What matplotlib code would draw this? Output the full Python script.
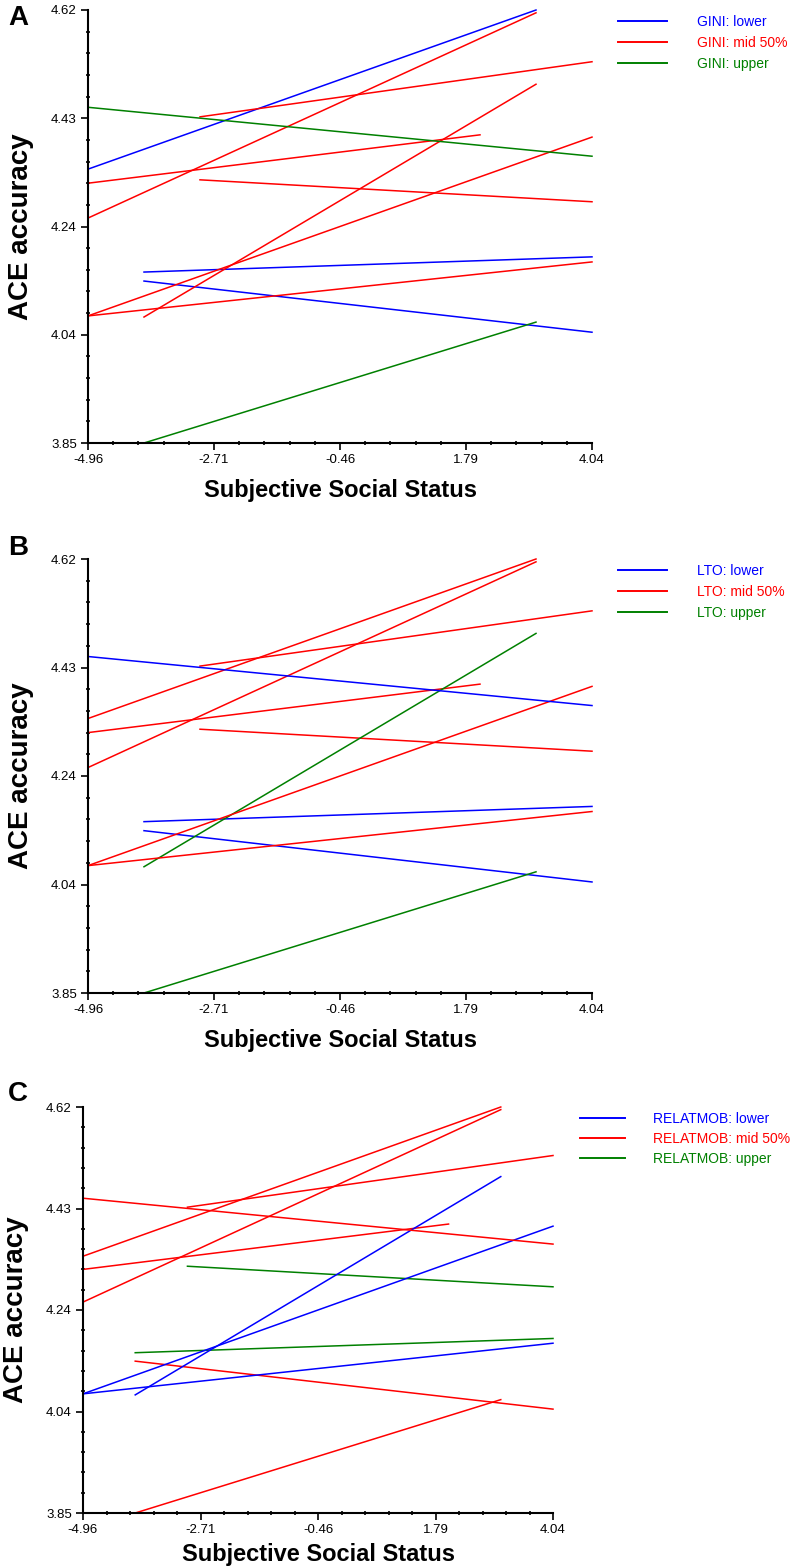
import numpy as np
import matplotlib.pyplot as plt
from matplotlib.lines import Line2D
from matplotlib.ticker import AutoMinorLocator

plt.rcParams['font.family'] = ['Liberation Sans', 'DejaVu Sans']

# the same 12 simple-slope lines appear in each panel, only the grouping changes
x_start = [-4.96, -3.96, -3.96, -4.96, -2.96, -4.96, -2.96, -3.96, -4.96, -4.96, -4.96, -3.96]
x_end = [3.04, 4.04, 4.04, 3.04, 4.04, 2.04, 4.04, 3.04, 4.04, 4.04, 4.04, 3.04]
y_start = [4.337, 4.154, 4.138, 4.250, 4.430, 4.312, 4.318, 4.074, 4.076, 4.076, 4.447, 3.850]
y_end = [4.620, 4.181, 4.047, 4.615, 4.528, 4.398, 4.279, 4.488, 4.394, 4.172, 4.360, 4.065]

# 0 = lower, 1 = mid 50%, 2 = upper
group_A = [0, 0, 0, 1, 1, 1, 1, 1, 1, 1, 2, 2]
group_B = [1, 0, 0, 1, 1, 1, 1, 2, 1, 1, 0, 2]
group_C = [1, 2, 1, 1, 1, 1, 2, 0, 0, 0, 1, 1]

moderators = ["GINI", "LTO", "RELATMOB"]
levels = ["lower", "mid 50%", "upper"]
panel_letters = ["A", "B", "C"]

xticks = [-4.96, -2.71, -0.46, 1.79, 4.04]
xticklabels = ["-4.96", "-2.71", "-0.46", "1.79", "4.04"]
yticks = [3.85, 4.0425, 4.235, 4.4275, 4.62]
yticklabels = ["3.85", "4.04", "4.24", "4.43", "4.62"]

colors = ["#0000ff", "#ff0000", "#008000"]

W, H = 794, 1567
fig = plt.figure(figsize=(W / 100, H / 100), dpi=100)

# axes boxes in pixels: left, right, top, bottom
boxes = [(88, 592, 10, 443), (88, 592, 559, 993), (83, 553, 1107, 1513)]
groups = [group_A, group_B, group_C]
letter_y = [18, 548, 1094]
xlabel_pad = [9, 9, 5]
leg_x = [1.052, 1.052, 1.057]
leg_y = [0.988, 0.988, 0.987]
leg_handle = [3.5, 3.5, 3.25]
leg_gap = [2.15, 2.15, 2.0]
leg_space = [0.5, 0.5, 0.42]

for k in range(3):
    l, r, t, b = boxes[k]
    ax = fig.add_axes([l / W, 1 - b / H, (r - l) / W, (b - t) / H])
    for i in range(len(x_start)):
        ax.plot([x_start[i], x_end[i]], [y_start[i], y_end[i]],
                color=colors[groups[k][i]], lw=1.1, clip_on=False)
    ax.set_xlim(-4.96, 4.04)
    ax.set_ylim(3.85, 4.62)
    ax.set_xticks(xticks)
    ax.set_xticklabels(xticklabels, fontsize=9.5)
    ax.set_yticks(yticks)
    ax.set_yticklabels(yticklabels, fontsize=9.5)
    ax.xaxis.set_minor_locator(AutoMinorLocator(5))
    ax.yaxis.set_minor_locator(AutoMinorLocator(5))
    ax.tick_params(which='major', length=5, width=1.2, direction='out', pad=3)
    ax.tick_params(which='minor', length=3, width=1.2, direction='inout')
    ax.spines['top'].set_visible(False)
    ax.spines['right'].set_visible(False)
    ax.spines['left'].set_linewidth(1.5)
    ax.spines['bottom'].set_linewidth(1.5)
    ax.set_xlabel("Subjective Social Status", fontsize=17, fontweight='bold',
                  labelpad=xlabel_pad[k])
    ax.set_ylabel("ACE accuracy", fontsize=20, fontweight='bold', labelpad=12)

    handles = [Line2D([], [], color=c, lw=1.4) for c in colors]
    labels = [moderators[k] + ": " + lv for lv in levels]
    ax.legend(handles, labels, loc='upper left', bbox_to_anchor=(leg_x[k], leg_y[k]),
              frameon=False, fontsize=10, handlelength=leg_handle[k],
              handletextpad=leg_gap[k], labelspacing=leg_space[k],
              borderpad=0, borderaxespad=0, labelcolor='linecolor')

    fig.text(8 / W, 1 - letter_y[k] / H, panel_letters[k], fontsize=20,
             fontweight='bold', va='center', ha='left')

fig.savefig("out.png", dpi=100)
